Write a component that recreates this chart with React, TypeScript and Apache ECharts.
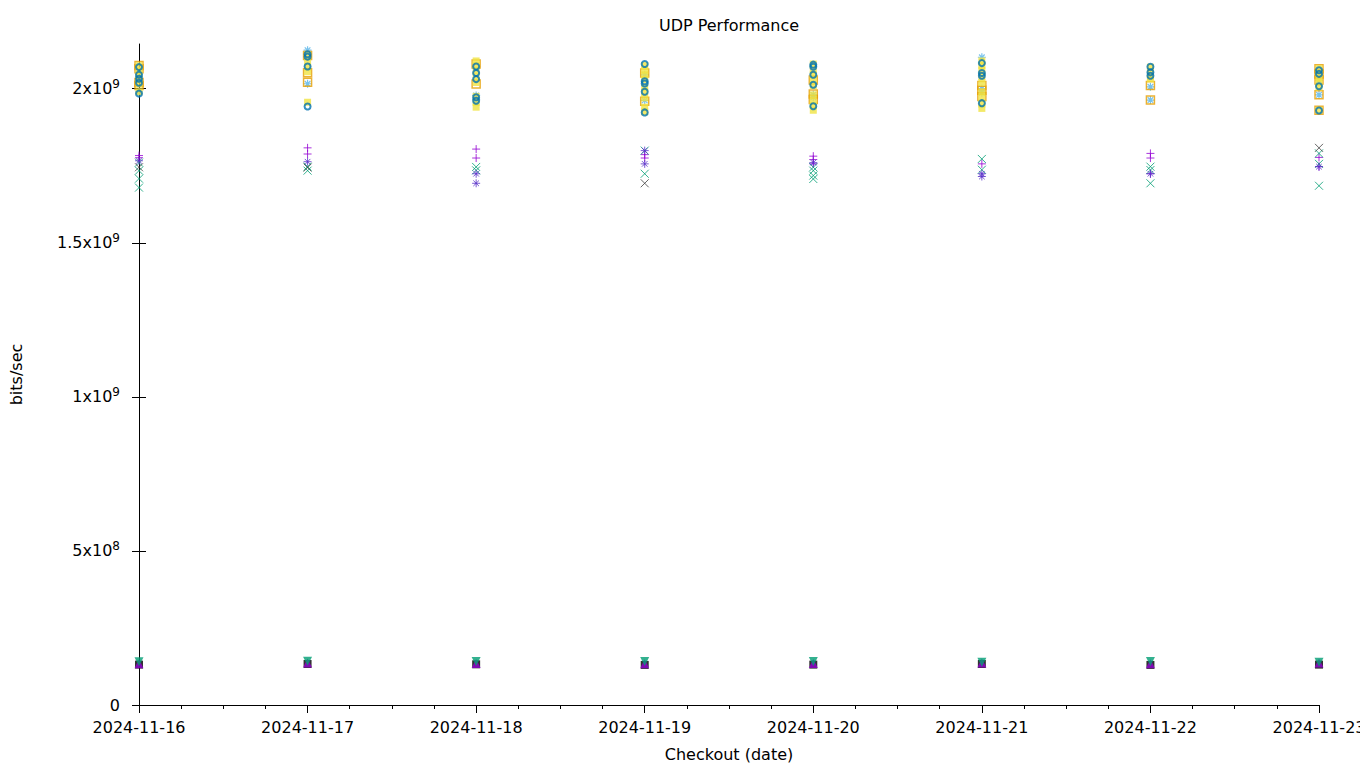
import React, { useEffect, useRef } from 'react';
import * as echarts from 'echarts';

const dates = ['2024-11-16', '2024-11-17', '2024-11-18', '2024-11-19', '2024-11-20', '2024-11-21', '2024-11-22', '2024-11-23'];
const yTicks = [0, 5e8, 1e9, 1.5e9, 2e9];

// values in Gbit/s, one list of runs per date
const purplePlus: number[][] = [
  [1.783, 1.776], [1.808, 1.788], [1.804, 1.775], [1.786, 1.775],
  [1.781, 1.770, 1.756], [1.756], [1.790, 1.775, 1.724], [1.777, 1.747],
];
const greenCross: number[][] = [
  [1.760, 1.734, 1.708, 1.679], [1.747, 1.734], [1.746, 1.735], [1.799, 1.724],
  [1.745, 1.734, 1.718, 1.707], [1.772, 1.737], [1.747, 1.736, 1.693], [1.790, 1.756, 1.685],
];
const lightBlueStar: number[][] = [
  [2.04, 1.99], [2.125, 2.016], [1.978, 1.965], [1.962, 2.045],
  [1.980, 1.972], [2.102, 2.0, 1.987], [2.006, 1.963], [2.028, 1.98],
];
const orangeSquare: number[][] = [
  [2.075, 2.065, 2.02, 2.01], [2.108, 2.052, 2.021], [2.015, 2.08], [2.051, 1.959],
  [2.028, 1.983, 1.965], [2.01, 1.995, 1.975], [2.01, 1.963], [2.065, 2.048, 2.028, 1.98, 1.93],
];
const yellowSquare: number[][] = [
  [2.075, 2.06, 2.045, 2.03, 2.015, 1.99],
  [2.11, 2.09, 2.07, 2.055, 1.956],
  [2.09, 2.075, 2.06, 2.04, 2.02, 1.975, 1.955, 1.94],
  [2.075, 2.06, 2.045, 2.03, 2.005, 1.99, 1.97, 1.94, 1.925],
  [2.08, 2.06, 2.045, 2.03, 2.01, 1.98, 1.96, 1.945, 1.93],
  [2.09, 2.075, 2.06, 2.04, 2.02, 1.99, 1.97, 1.95, 1.936],
  [2.07, 2.055, 2.04, 2.031],
  [2.065, 2.05, 2.035, 2.02, 2.005, 1.93],
];
const blueCircle: number[][] = [
  [2.07, 2.045, 2.032, 2.019, 1.984], [2.112, 2.104, 2.072, 1.942], [2.072, 2.051, 2.031, 1.972, 1.961],
  [2.080, 2.024, 2.017, 1.990, 1.923], [2.078, 2.071, 2.045, 2.013, 1.943], [2.083, 2.051, 2.042, 1.953],
  [2.071, 2.053, 2.042], [2.060, 2.048, 2.008, 1.929],
];
const purpleStar: number[][] = [
  [1.766], [1.763], [1.724, 1.693], [1.799, 1.756], [1.760], [1.724, 1.715], [1.724], [1.747],
];
const grayCross: number[][] = [
  [1.745], [1.744], [], [1.693], [], [], [], [1.808],
];
const blackSquare: number[][] = [
  [0.131], [0.133], [0.132], [0.130], [0.131], [0.133], [0.130], [0.131],
];
const purpleTriangle: number[][] = [
  [0.134], [0.136], [0.135], [0.134], [0.135], [0.136], [0.134], [0.136],
];
const greenTriangle: number[][] = [
  [0.140], [0.142], [0.141], [0.141], [0.141], [0.139], [0.141], [0.139],
];

const PLUS = 'path://M0,5L10,5M5,0L5,10';
const CROSS = 'path://M0,0L10,10M10,0L0,10';
const STAR = 'path://M0,5L10,5M5,0L5,10M1.5,1.5L8.5,8.5M8.5,1.5L1.5,8.5';

const toData = (runs: number[][]) => runs.flatMap((vals, i) => vals.map((v) => [i, v * 1e9]));

const FONT = 'DejaVu Sans';
const FS = 16;

function yLabel(v: number): string {
  if (v === 0) return '0';
  const exp = Math.floor(Math.log10(v) + 1e-9);
  const mant = +(v / Math.pow(10, exp)).toFixed(2);
  return `{a|${mant}x10}{s|${exp}}`;
}

export default function App() {
  const ref = useRef<HTMLDivElement>(null);
  useEffect(() => {
    if (!ref.current) return;
    const chart = echarts.init(ref.current, undefined, { renderer: 'svg' });
    const mk = (name: string, runs: number[][], symbol: string, size: number, color: string, filled: boolean, rotate = 0, bw = 1) => ({
      name,
      type: 'scatter',
      data: toData(runs),
      symbol,
      symbolSize: size,
      symbolRotate: rotate,
      itemStyle: filled
        ? { color, borderWidth: 0 }
        : { color: 'rgba(0,0,0,0)', borderColor: color, borderWidth: bw },
      emphasis: { disabled: true },
    });
    chart.setOption({
      animation: false,
      backgroundColor: '#ffffff',
      textStyle: { fontFamily: FONT },
      title: {
        text: 'UDP Performance',
        left: 729,
        top: 17,
        padding: 0,
        textAlign: 'center',
        textStyle: { fontFamily: FONT, fontSize: FS, fontWeight: 'normal', color: '#000' },
      },
      grid: { left: 139, right: 41, top: 44, bottom: 63, containLabel: false, outerBoundsMode: 'none' },
      xAxis: [
        {
          type: 'value',
          position: 'bottom',
          min: 0,
          max: 7,
          interval: 1,
          name: 'Checkout (date)',
          nameLocation: 'middle',
          nameGap: 41,
          nameTextStyle: { fontFamily: FONT, fontSize: FS, color: '#000' },
          axisLine: { show: true, lineStyle: { color: '#000', width: 1 } },
          axisTick: { show: true, inside: false, length: 8, lineStyle: { color: '#000' } },
          minorTick: { show: true, splitNumber: 2, length: 4, lineStyle: { color: '#000' } },
          splitLine: { show: false },
          axisLabel: {
            fontFamily: FONT,
            fontSize: FS,
            color: '#000',
            margin: 14,
            formatter: (v: number) => dates[Math.round(v)] ?? '',
          },
        },
        {
          type: 'value',
          position: 'top',
          min: 0,
          max: 7,
          interval: 1,
          axisLine: { show: false },
          axisTick: { show: true, inside: true, length: 8, lineStyle: { color: '#000' } },
          minorTick: { show: true, splitNumber: 4, length: 4, lineStyle: { color: '#000' } },
          splitLine: { show: false },
          axisLabel: { show: false },
        },
      ],
      yAxis: [
        {
          type: 'value',
          position: 'left',
          min: 0,
          max: 2.145e9,
          name: 'bits/sec',
          nameLocation: 'middle',
          nameGap: 115,
          nameRotate: 90,
          nameTextStyle: { fontFamily: FONT, fontSize: FS, color: '#000' },
          axisLine: { show: true, lineStyle: { color: '#000', width: 1 } },
          axisTick: { show: true, inside: false, length: 7, customValues: yTicks, lineStyle: { color: '#000' } },
          splitLine: { show: false },
          axisLabel: {
            customValues: yTicks,
            margin: 19,
            color: '#000',
            fontFamily: FONT,
            fontSize: FS,
            formatter: yLabel,
            rich: {
              a: { fontFamily: FONT, fontSize: FS, color: '#000' },
              s: { fontFamily: FONT, fontSize: 12, color: '#000', padding: [0, 0, 9, 0] },
            },
          },
        },
        {
          type: 'value',
          position: 'right',
          min: 0,
          max: 2.145e9,
          axisLine: { show: false },
          axisTick: { show: true, inside: false, length: 7, customValues: yTicks, lineStyle: { color: '#000' } },
          splitLine: { show: false },
          axisLabel: { show: false },
        },
      ],
      series: [
        mk('s1', purplePlus, PLUS, 8, '#9400d3', false),
        mk('s2', greenCross, CROSS, 8, '#009e73', false),
        mk('s3', lightBlueStar, STAR, 8, '#56b4e9', false, 0, 1.2),
        mk('s4', orangeSquare, 'rect', 8, '#e69f00', false, 0, 1.5),
        mk('s5', yellowSquare, 'rect', 7, '#f0e442', true),
        mk('s6', blueCircle, 'circle', 6, '#0072b2', false, 0, 2),
        mk('s7', purpleStar, STAR, 8, '#5a32c8', false),
        mk('s8', grayCross, CROSS, 8, '#404040', false),
        mk('s9', blackSquare, 'rect', 8, '#000000', true),
        mk('s10', purpleTriangle, 'triangle', 9, '#9400d3', true),
        mk('s11', greenTriangle, 'triangle', 9, '#009e73', true, 180),
      ],
    });
    return () => chart.dispose();
  }, []);
  return <div ref={ref} style={{ width: 1360, height: 768, position: 'absolute', left: 0, top: 0 }} />;
}
